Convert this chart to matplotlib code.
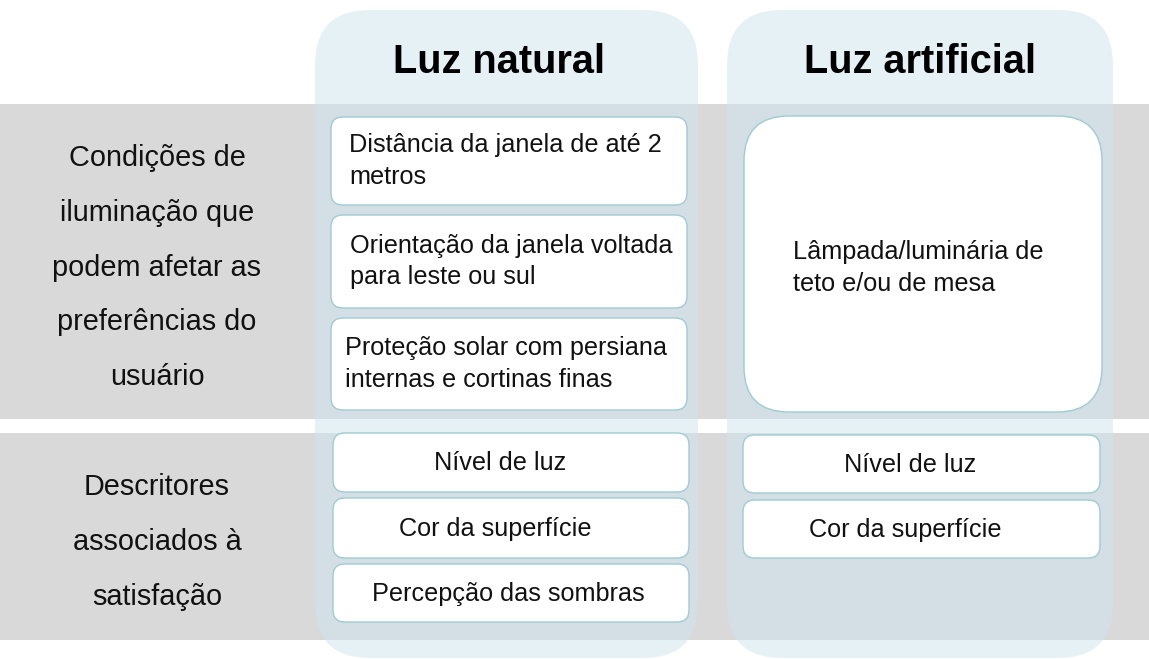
import matplotlib
matplotlib.use("Agg")
import matplotlib.pyplot as plt
from matplotlib.patches import FancyBboxPatch, Rectangle

plt.rcParams["font.family"] = ["Liberation Sans", "DejaVu Sans"]

# column headers
columns = ["Luz natural", "Luz artificial"]

# row labels (one line per entry)
row_labels = [
    ["Condições de", "iluminação que", "podem afetar as", "preferências do", "usuário"],
    ["Descritores", "associados à", "satisfação"],
]

# cell texts: condições de iluminação
natural_conditions = [
    "Distância da janela de até 2\nmetros",
    "Orientação da janela voltada\npara leste ou sul",
    "Proteção solar com persiana\ninternas e cortinas finas",
]
artificial_conditions = ["Lâmpada/luminária de\nteto e/ou de mesa"]

# cell texts: descritores
natural_descriptors = ["Nível de luz", "Cor da superfície", "Percepção das sombras"]
artificial_descriptors = ["Nível de luz", "Cor da superfície"]

W, H = 1149, 659
fig = plt.figure(figsize=(W / 100, H / 100), dpi=100)
ax = fig.add_axes([0, 0, 1, 1])
ax.set_xlim(0, W)
ax.set_ylim(H, 0)
ax.set_aspect("equal")
ax.axis("off")

gray = "#d9d9d9"
col_color = "#cee5ef"
edge = "#9fcbd3"

# gray bands
bands = [(104, 419), (433, 640)]
for y0, y1 in bands:
    ax.add_patch(Rectangle((0, y0), W, y1 - y0, facecolor=gray, edgecolor="none", zorder=1))

# light blue columns
col_x = [(315, 698), (727, 1113)]
title_x = [499, 920]
for (x0, x1), name, tx in zip(col_x, columns, title_x):
    ax.add_patch(FancyBboxPatch((x0, 10), x1 - x0, 648, boxstyle="round,pad=0,rounding_size=55",
                                facecolor=col_color, edgecolor="none", alpha=0.5, zorder=2))
    ax.text(tx, 62, name, ha="center", va="center", fontsize=28.6,
            fontweight="bold", color="black", zorder=5)


def box(x0, y0, x1, y1, r=12):
    ax.add_patch(FancyBboxPatch((x0, y0), x1 - x0, y1 - y0,
                                boxstyle=f"round,pad=0,rounding_size={r}",
                                facecolor="white", edgecolor=edge, linewidth=1, zorder=3))


# row labels (baselines)
label_y = [[166, 221, 276, 330, 385], [495, 550, 605]]
for lines, ys in zip(row_labels, label_y):
    for line, y in zip(lines, ys):
        ax.text(157, y, line, ha="center", va="baseline", fontsize=20.8, color="#111111", zorder=5)

fs = 18.2
ls = 1.38

# natural light: conditions
nat_cond_boxes = [(117, 205), (215, 308), (318, 410)]
nat_cond_tx = [349, 350, 345]
for txt, (y0, y1), tx in zip(natural_conditions, nat_cond_boxes, nat_cond_tx):
    box(331, y0, 687, y1)
    ax.text(tx, (y0 + y1) / 2, txt, ha="left", va="center", fontsize=fs,
            linespacing=ls, color="#111111", zorder=5)

# artificial light: conditions
box(744, 116, 1102, 412, r=45)
ax.text(793, 268, artificial_conditions[0], ha="left", va="center", fontsize=fs,
        linespacing=ls, color="#111111", zorder=5)

# descriptors
nat_desc_boxes = [(433, 492), (498, 558), (564, 622)]
nat_desc_x = [500, 495, 508]
for txt, (y0, y1), tx in zip(natural_descriptors, nat_desc_boxes, nat_desc_x):
    box(333, y0, 689, y1)
    ax.text(tx, (y0 + y1) / 2 + 1, txt, ha="center", va="center", fontsize=fs,
            color="#111111", zorder=5)

art_desc_boxes = [(435, 493), (500, 558)]
art_desc_x = [910, 905]
for txt, (y0, y1), tx in zip(artificial_descriptors, art_desc_boxes, art_desc_x):
    box(743, y0, 1100, y1)
    ax.text(tx, (y0 + y1) / 2 + 1, txt, ha="center", va="center", fontsize=fs,
            color="#111111", zorder=5)

fig.savefig("out.png", dpi=100)
